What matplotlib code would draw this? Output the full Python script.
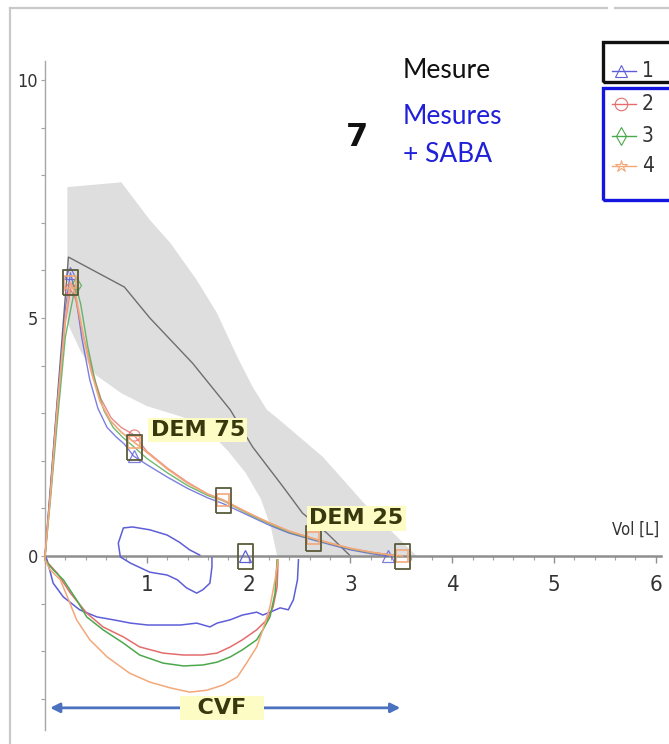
import numpy as np
import matplotlib
matplotlib.use("Agg")
import matplotlib.pyplot as plt
from matplotlib.lines import Line2D
from matplotlib.patches import Rectangle

# ---------------- data ----------------
# reference (predicted) normal band
band_upper_x = [0.22, 0.75, 1.03, 1.23, 1.49, 1.69, 1.89, 2.04, 2.18, 2.28, 2.50, 2.73, 2.93, 3.22, 3.46, 3.65]
band_upper_y = [7.75, 7.85, 7.06, 6.58, 5.80, 5.10, 4.18, 3.55, 3.07, 2.90, 2.50, 2.08, 1.60, 0.90, 0.40, 0.00]
band_lower_x = [0.22, 0.35, 0.50, 0.75, 1.00, 1.35, 1.60, 1.80, 1.97, 2.12, 2.22, 2.28, 3.65]
band_lower_y = [4.90, 4.30, 3.80, 3.42, 3.15, 2.92, 2.65, 2.20, 1.75, 1.20, 0.60, 0.00, 0.00]

# predicted curve
pred_x = [0.0, 0.23, 0.78, 1.03, 1.45, 1.82, 2.04, 2.34, 2.53, 2.77, 3.00]
pred_y = [0.0, 6.28, 5.65, 5.00, 4.05, 3.07, 2.29, 1.45, 0.90, 0.48, 0.00]

# expiratory curves (1 blue, 2 red, 3 green, 4 orange)
exp1_x = [0, 0.05, 0.12, 0.20, 0.25, 0.30, 0.36, 0.44, 0.52, 0.61, 0.70, 0.78, 0.87, 1.0, 1.2, 1.4, 1.6, 1.75, 2.0, 2.2, 2.4, 2.63, 2.8, 3.0, 3.2, 3.37]
exp1_y = [0, 1.3, 3.2, 5.2, 5.95, 5.5, 4.6, 3.7, 3.1, 2.7, 2.5, 2.35, 2.10, 1.92, 1.66, 1.42, 1.22, 1.10, 0.85, 0.65, 0.48, 0.34, 0.24, 0.13, 0.05, 0.0]
exp2_x = [0, 0.05, 0.12, 0.20, 0.25, 0.30, 0.38, 0.46, 0.55, 0.65, 0.75, 0.87, 1.0, 1.2, 1.4, 1.6, 1.75, 2.0, 2.2, 2.4, 2.63, 2.8, 3.0, 3.2, 3.4, 3.5]
exp2_y = [0, 1.2, 3.0, 4.9, 5.6, 5.4, 4.6, 3.9, 3.3, 2.9, 2.7, 2.55, 2.2, 1.85, 1.55, 1.3, 1.18, 0.9, 0.7, 0.52, 0.37, 0.27, 0.16, 0.08, 0.02, 0.0]
exp3_x = [0, 0.05, 0.12, 0.20, 0.30, 0.35, 0.42, 0.50, 0.58, 0.67, 0.76, 0.87, 1.0, 1.2, 1.4, 1.6, 1.75, 2.0, 2.2, 2.4, 2.63, 2.8, 3.0, 3.2, 3.4, 3.48]
exp3_y = [0, 1.1, 2.8, 4.6, 5.7, 5.3, 4.4, 3.6, 3.05, 2.7, 2.5, 2.3, 2.05, 1.75, 1.48, 1.27, 1.16, 0.88, 0.68, 0.5, 0.36, 0.26, 0.15, 0.07, 0.02, 0.0]
exp4_x = [0, 0.05, 0.12, 0.20, 0.25, 0.30, 0.37, 0.45, 0.54, 0.64, 0.75, 0.87, 1.0, 1.2, 1.4, 1.6, 1.75, 2.0, 2.2, 2.4, 2.63, 2.8, 3.0, 3.2, 3.4, 3.51]
exp4_y = [0, 1.2, 3.1, 5.0, 5.75, 5.5, 4.7, 3.9, 3.25, 2.85, 2.6, 2.4, 2.18, 1.83, 1.53, 1.3, 1.17, 0.9, 0.7, 0.52, 0.37, 0.27, 0.16, 0.08, 0.02, 0.0]

# inspiratory curves
insp1_x = [0.0, 0.02, 0.08, 0.18, 0.34, 0.51, 0.67, 0.84, 1.01, 1.16, 1.33, 1.49, 1.62, 1.69, 1.82, 1.94, 2.08, 2.14, 2.21, 2.31, 2.39, 2.44, 2.48, 2.49]
insp1_y = [0.0, -0.08, -0.57, -0.86, -1.13, -1.28, -1.34, -1.41, -1.45, -1.45, -1.45, -1.41, -1.49, -1.41, -1.34, -1.24, -1.18, -1.24, -1.18, -1.09, -1.13, -0.92, -0.50, -0.08]
loop1_x = [1.52, 1.42, 1.32, 1.20, 1.03, 0.86, 0.77, 0.72, 0.74, 0.84, 1.03, 1.20, 1.30, 1.39, 1.49, 1.55, 1.62, 1.64, 1.64]
loop1_y = [0.02, 0.13, 0.29, 0.44, 0.55, 0.61, 0.59, 0.27, -0.02, -0.15, -0.34, -0.40, -0.50, -0.67, -0.78, -0.71, -0.57, -0.23, -0.04]
insp2_x = [0.0, 0.0, 0.12, 0.25, 0.41, 0.57, 0.77, 0.93, 1.16, 1.36, 1.55, 1.69, 1.82, 1.94, 2.08, 2.18, 2.24, 2.28, 2.29]
insp2_y = [0.0, -0.08, -0.36, -0.78, -1.20, -1.49, -1.70, -1.91, -2.04, -2.08, -2.08, -2.04, -1.91, -1.76, -1.55, -1.34, -1.07, -0.65, -0.08]
insp3_x = [0.0, 0.0, 0.08, 0.18, 0.31, 0.41, 0.57, 0.77, 0.93, 1.16, 1.36, 1.55, 1.69, 1.82, 1.94, 2.08, 2.14, 2.21, 2.26, 2.28]
insp3_y = [0.0, -0.08, -0.29, -0.50, -0.92, -1.28, -1.55, -1.83, -2.08, -2.25, -2.31, -2.29, -2.23, -2.12, -1.97, -1.76, -1.55, -1.28, -0.78, -0.08]
insp4_x = [0.0, 0.0, 0.05, 0.15, 0.22, 0.31, 0.44, 0.61, 0.83, 1.03, 1.23, 1.42, 1.59, 1.75, 1.89, 1.98, 2.08, 2.14, 2.21, 2.26, 2.29]
insp4_y = [0.0, -0.08, -0.29, -0.50, -0.86, -1.34, -1.76, -2.12, -2.46, -2.65, -2.77, -2.86, -2.82, -2.71, -2.54, -2.25, -1.91, -1.55, -1.07, -0.50, -0.08]

# selected points (DEM markers, peak, end)
sel_x = [0.25, 0.87, 1.75, 2.63, 3.51, 1.96]
sel_y = [5.75, 2.30, 1.17, 0.37, 0.0, 0.0]

xticks_major = [0, 1, 2, 3, 4, 5, 6]
xtick_labels = ["", "1", "2", "3", "4", "5", "6"]
yticks_major = [-3, -2, -1, 0, 1, 2, 3, 4, 5, 6, 7, 8, 9, 10]
ytick_labels = ["", "", "", "0", "", "", "", "", "5", "", "", "", "", "10"]

legend_labels = ["1", "2", "3", "4"]
cvf_range = [0.05, 3.49]

# ---------------- style ----------------
W, H = 669, 744
c_blue = "#5e5ed8"
c_red = "#e46c6c"
c_green = "#4ca84c"
c_orange = "#f3a87a"
c_pred = "#6e6e6e"
c_band = "#dedede"
narrow = dict(fontfamily="DejaVu Sans", fontstretch="condensed")

fig = plt.figure(figsize=(W / 100, H / 100), dpi=100)
px_unit_x = 101.8
px_unit_y = 47.6
x0_px, y0_px = 45, 556
ax_l, ax_r, ax_t, ax_b = 14, 669, 30, 740
ax = fig.add_axes([ax_l / W, 1 - ax_b / H, (ax_r - ax_l) / W, (ax_b - ax_t) / H])
ax.set_xlim((ax_l - x0_px) / px_unit_x, (ax_r - x0_px) / px_unit_x)
ax.set_ylim((y0_px - ax_b) / px_unit_y, (y0_px - ax_t) / px_unit_y)
ax.patch.set_alpha(0)


def fx(px):
    return px / W


def fy(py):
    return 1 - py / H


# panel frame lines (light gray)
for xs, ys in [([10, 607], [8, 8]), ([615, 669], [8, 8]), ([10, 10], [8, 744])]:
    fig.add_artist(Line2D([fx(v) for v in xs], [fy(v) for v in ys], color="#c9c9c9", lw=1.6))

# band
bx = band_upper_x + band_lower_x[::-1]
by = band_upper_y + band_lower_y[::-1]
ax.fill(bx, by, color=c_band, lw=0, zorder=1)

# predicted
ax.plot(pred_x, pred_y, color=c_pred, lw=1.0, zorder=2)

# inspiratory curves
ax.plot(insp1_x, insp1_y, color=c_blue, lw=1.1, zorder=3)
ax.plot(loop1_x, loop1_y, color=c_blue, lw=1.1, zorder=3)
ax.plot(insp2_x, insp2_y, color=c_red, lw=1.1, zorder=3)
ax.plot(insp3_x, insp3_y, color=c_green, lw=1.1, zorder=3)
ax.plot(insp4_x, insp4_y, color=c_orange, lw=1.1, zorder=3)

# expiratory curves
ax.plot(exp1_x, exp1_y, color=c_blue, lw=1.0, alpha=0.8, zorder=3,
        marker="^", markevery=[4, 12, 25], ms=8, mfc="none", mec=c_blue, mew=0.9)
ax.plot(exp2_x, exp2_y, color=c_red, lw=1.0, alpha=0.8, zorder=3,
        marker="o", markevery=[4, 11], ms=8, mfc="none", mec=c_red, mew=0.9)
ax.plot(exp3_x, exp3_y, color=c_green, lw=1.0, alpha=0.8, zorder=3,
        marker="d", markevery=[4], ms=8, mfc="none", mec=c_green, mew=0.9)
ax.plot(exp4_x, exp4_y, color=c_orange, lw=1.2, zorder=3,
        marker="s", markevery=[4, 11, 16, 20, 25], ms=9, mfc="none", mec=c_orange, mew=1.2)

# selected points (tall squares)
tall_rect = [(-0.3, -0.5), (0.3, -0.5), (0.3, 0.5), (-0.3, 0.5), (-0.3, -0.5)]
ax.plot(sel_x, sel_y, ls="none", marker=tall_rect, ms=18, mfc="none", mec="#5a5a3a", mew=1.3, zorder=4)
ax.plot([sel_x[-1]], [sel_y[-1]], ls="none", marker="^", ms=8, mfc="none", mec=c_blue, mew=0.9, zorder=4)

# axes spines through origin
for s in ["top", "right"]:
    ax.spines[s].set_visible(False)
ax.spines["left"].set_position(("data", 0))
ax.spines["bottom"].set_position(("data", 0))
ax.spines["left"].set_bounds(-3.65, 10.4)
ax.spines["bottom"].set_bounds(0, 6.05)
ax.spines["left"].set_color("#a6a6a6")
ax.spines["left"].set_linewidth(1.0)
ax.spines["bottom"].set_color("#8f8f8f")
ax.spines["bottom"].set_linewidth(1.8)
ax.spines["left"].set_zorder(2.5)
ax.spines["bottom"].set_zorder(2.5)

ax.set_xticks(xticks_major)
ax.set_xticklabels(xtick_labels, fontsize=16, color="#333333", **narrow)
ax.set_xticks(np.arange(0, 6.01, 0.2), minor=True)
ax.set_yticks(yticks_major)
ax.set_yticklabels(ytick_labels, fontsize=13, color="#333333", **narrow)
ax.tick_params(axis="x", which="major", direction="out", length=5, width=1, color="#909090", pad=9)
ax.tick_params(axis="x", which="minor", direction="out", length=3, width=0.8, color="#a0a0a0")
ax.tick_params(axis="y", which="major", direction="out", length=3, width=0.8, color="#a0a0a0", pad=2)

ax.text(5.8, 0.55, "Vol [L]", fontsize=12, color="#333333", ha="center", va="center", **narrow)

# DEM / CVF labels
lab_kw = dict(ha="center", va="center", fontsize=16, fontweight="bold", color="#38380e",
              fontfamily="DejaVu Sans", zorder=6)
box = dict(boxstyle="square,pad=0.1", fc="#fcfcc4", ec="none")
ax.text(1.5, 2.65, "DEM 75", bbox=box, **lab_kw)
ax.text(3.06, 0.79, "DEM 25", bbox=box, **lab_kw)
ax.annotate("", xy=(cvf_range[1], -3.19), xytext=(cvf_range[0], -3.19),
            arrowprops=dict(arrowstyle="<|-|>", color="#4a72be", lw=2, mutation_scale=14,
                            shrinkA=0, shrinkB=0), zorder=5)
ax.text(1.74, -3.19, "  CVF  ", bbox=box, **lab_kw)

# header texts
fig.text(fx(403), fy(70), "Mesure", fontfamily="Lato", fontsize=19, color="#111111", ha="left", va="center")
fig.text(fx(403), fy(117), "Mesures", fontfamily="Lato", fontsize=19, color="#2020d8", ha="left", va="center")
fig.text(fx(403), fy(155), "+ SABA", fontfamily="Lato", fontsize=19, color="#2020d8", ha="left", va="center")
fig.text(fx(357), fy(137), "7", fontfamily="DejaVu Sans", fontsize=23, fontweight="bold", color="#111111",
         ha="center", va="center")

# legend boxes
fig.add_artist(Rectangle((fx(603), fy(82)), fx(80), 40 / H, fill=False, ec="#111111", lw=2.4))
fig.add_artist(Rectangle((fx(603), fy(200)), fx(80), 112 / H, fill=False, ec="#1515e0", lw=2.4))
leg_y = [71, 104, 136, 166]
leg_col = [c_blue, c_red, c_green, c_orange]
leg_mark = ["^", "o", "d", "*"]
for lab, ly, col, mk in zip(legend_labels, leg_y, leg_col, leg_mark):
    fig.add_artist(Line2D([fx(612), fx(636)], [fy(ly), fy(ly)], color=col, lw=1.0))
    fig.add_artist(Line2D([fx(621)], [fy(ly)], marker=mk, ms=9, mfc="none", mec=col, mew=0.8, ls="none"))
    fig.text(fx(642), fy(ly), lab, fontsize=15, color="#333333", ha="left", va="center", **narrow)

fig.savefig("out.png", dpi=100)
